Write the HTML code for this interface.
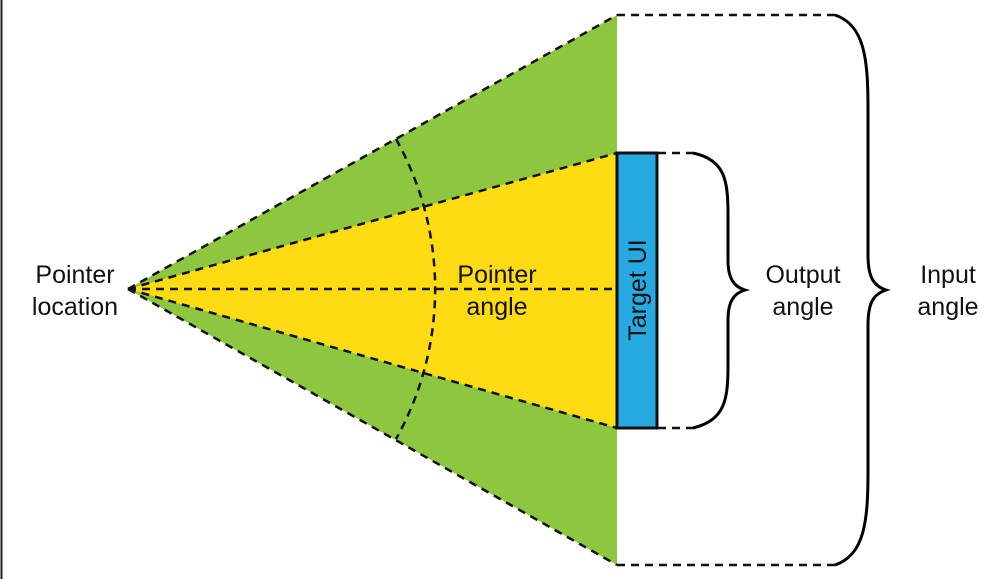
<!DOCTYPE html>
<html><head><style>body{margin:0;background:#fff}svg{display:block}</style></head><body>
<svg width="1000" height="579" viewBox="0 0 1000 579" xmlns="http://www.w3.org/2000/svg" font-family="Liberation Sans, sans-serif">
<rect width="1000" height="579" fill="#fff"/>
<line x1="1.5" y1="0" x2="1.5" y2="579" stroke="#222" stroke-width="2"/>
<polygon points="128,289 617,15 617,565" fill="#8dc63f"/>
<polygon points="128,289 617,153 617,428" fill="#fedb12"/>
<g stroke="#111" stroke-width="2.5" stroke-dasharray="8,6" fill="none">
<line x1="128" y1="289" x2="617" y2="15"/>
<line x1="128" y1="289" x2="617" y2="565"/>
<line x1="128" y1="289" x2="617" y2="153"/>
<line x1="128" y1="289" x2="617" y2="428"/>
<line x1="128" y1="289" x2="617" y2="289"/>
<path d="M396,139 A307,307 0 0 1 396,439"/>
<line x1="617" y1="15" x2="835" y2="15"/>
<line x1="617" y1="565" x2="835" y2="565"/>
<line x1="658" y1="153" x2="693" y2="153"/>
<line x1="658" y1="428" x2="693" y2="428"/>
</g>
<rect x="617" y="153" width="40" height="275" fill="#27a9e1" stroke="#111" stroke-width="3"/>
<g stroke="#000" stroke-width="3" fill="none">
<path d="M693,153 C725,160 728,180 728,215 L728,260 C728,280 735,287 745,290 C735,293 728,300 728,320 L728,365 C728,400 725,420 693,428"/>
<path d="M835,15 C865,25 868,60 868,110 L868,255 C868,278 874,286 886,290 C874,294 868,302 868,325 L868,470 C868,520 865,555 835,565"/>
</g>
<g font-size="25" fill="#111" text-anchor="middle">
<text x="75" y="283">Pointer</text><text x="75" y="315">location</text>
<text x="497" y="283">Pointer</text><text x="497" y="315">angle</text>
<text x="803" y="283">Output</text><text x="803" y="315">angle</text>
<text x="948" y="283">Input</text><text x="948" y="315">angle</text>
<text transform="translate(646,290) rotate(-90)" x="0" y="0">Target UI</text>
</g>
</svg>
</body></html>
